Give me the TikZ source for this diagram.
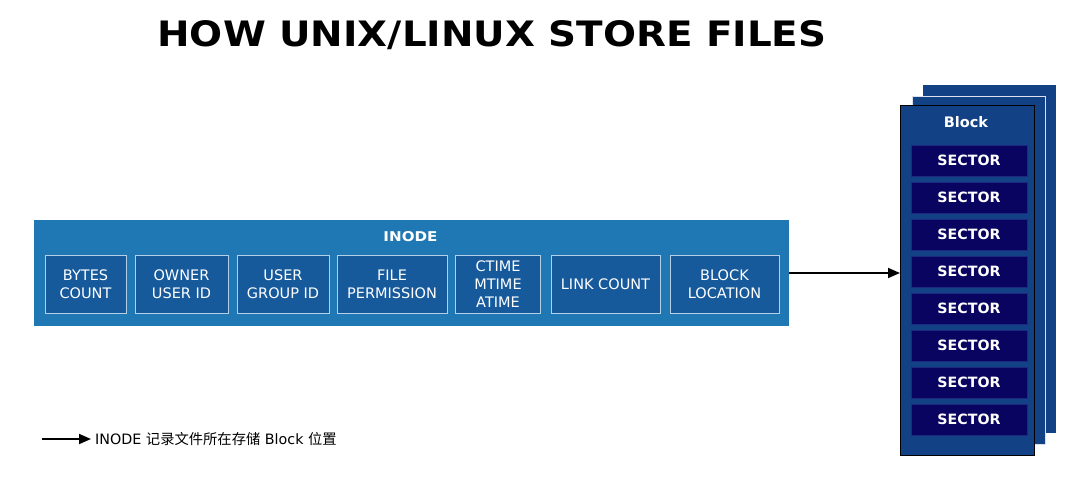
\documentclass[tikz,border=0pt]{standalone}
\usepackage{fontspec}
\usepackage{graphicx}
\setmainfont{DejaVu Sans}
\newfontfamily\cjk{Noto Sans CJK SC}
\usetikzlibrary{arrows.meta}
\definecolor{inodeblue}{HTML}{1F78B4}
\definecolor{fieldblue}{HTML}{175A9C}
\definecolor{fieldedge}{HTML}{B4D0E6}
\definecolor{blockblue}{HTML}{134185}
\definecolor{sectorblue}{HTML}{08045F}
\definecolor{sectoredge}{HTML}{1B2A80}
\tikzset{
  field/.style={draw=fieldedge, line width=1pt, fill=fieldblue, text=white, align=center,
    inner sep=0pt, minimum height=58pt, font=\fontsize{14.5}{18}\selectfont},
  sectorbox/.style={draw=sectoredge, line width=0.8pt, fill=sectorblue, text=white,
    inner sep=0pt, minimum width=116pt, minimum height=31pt, font=\fontsize{14.2}{16}\selectfont\bfseries},
  blocksheet/.style={fill=blockblue, inner sep=0pt, anchor=north west},
  arr/.style={line width=1.8pt, -{Triangle[length=12pt,width=10pt]}},
}
\begin{document}
\begin{tikzpicture}[x=1pt,y=-1pt]
\useasboundingbox[fill=white] (0,0) rectangle (1080,490);
% title
\node[font=\fontsize{35}{40}\selectfont\bfseries] (title) at (492,35) {\scalebox{1.11}[1]{HOW UNIX/LINUX STORE FILES}};
% inode
\node[fill=inodeblue, inner sep=0pt, minimum width=755pt, minimum height=106pt] (inode) at (411.5,273) {};
\node[text=white, font=\fontsize{13.5}{15}\selectfont\bfseries] (inodelabel) at (410.5,237) {\scalebox{1.12}[1]{INODE}};
\node[field, minimum width=81pt] (f1) at (85.5,284) {BYTES\\COUNT};
\node[field, minimum width=93pt] (f2) at (181.5,284) {OWNER\\USER ID};
\node[field, minimum width=92pt] (f3) at (283,284) {USER\\GROUP ID};
\node[field, minimum width=110pt] (f4) at (392,284) {FILE\\PERMISSION};
\node[field, minimum width=85pt] (f5) at (498,284) {CTIME\\MTIME\\ATIME};
\node[field, minimum width=109pt] (f6) at (605.5,284) {LINK COUNT};
\node[field, minimum width=109pt] (f7) at (724.5,284) {BLOCK\\LOCATION};
% block stack
\node[blocksheet, minimum width=133pt, minimum height=348pt] (back2) at (923,85) {};
\node[blocksheet, draw=white!85!blockblue, line width=1pt, minimum width=133pt, minimum height=348pt] (back1) at (912,96) {};
\node[blocksheet, draw=black, line width=1pt, minimum width=134pt, minimum height=350pt] (front) at (900,105) {};
\node[text=white, font=\fontsize{14.5}{16}\selectfont\bfseries] (blocklabel) at (966,122) {Block};
\foreach \i in {0,...,7}{
  \node[sectorbox] (s\i) at (969,{160.7+37*\i}) {SECTOR};
}
% connector
\draw[arr] (inode.east) -- (front.west |- inode.east);
% legend
\coordinate (legstart) at (42,439);
\node[anchor=west, inner sep=0pt, font=\fontsize{14.3}{16}\selectfont] (legend) at (95,439) {INODE {\cjk 记录文件所在存储} Block {\cjk 位置}};
\draw[arr] (legstart) -- ([xshift=-4pt]legend.west);
\end{tikzpicture}
\end{document}
